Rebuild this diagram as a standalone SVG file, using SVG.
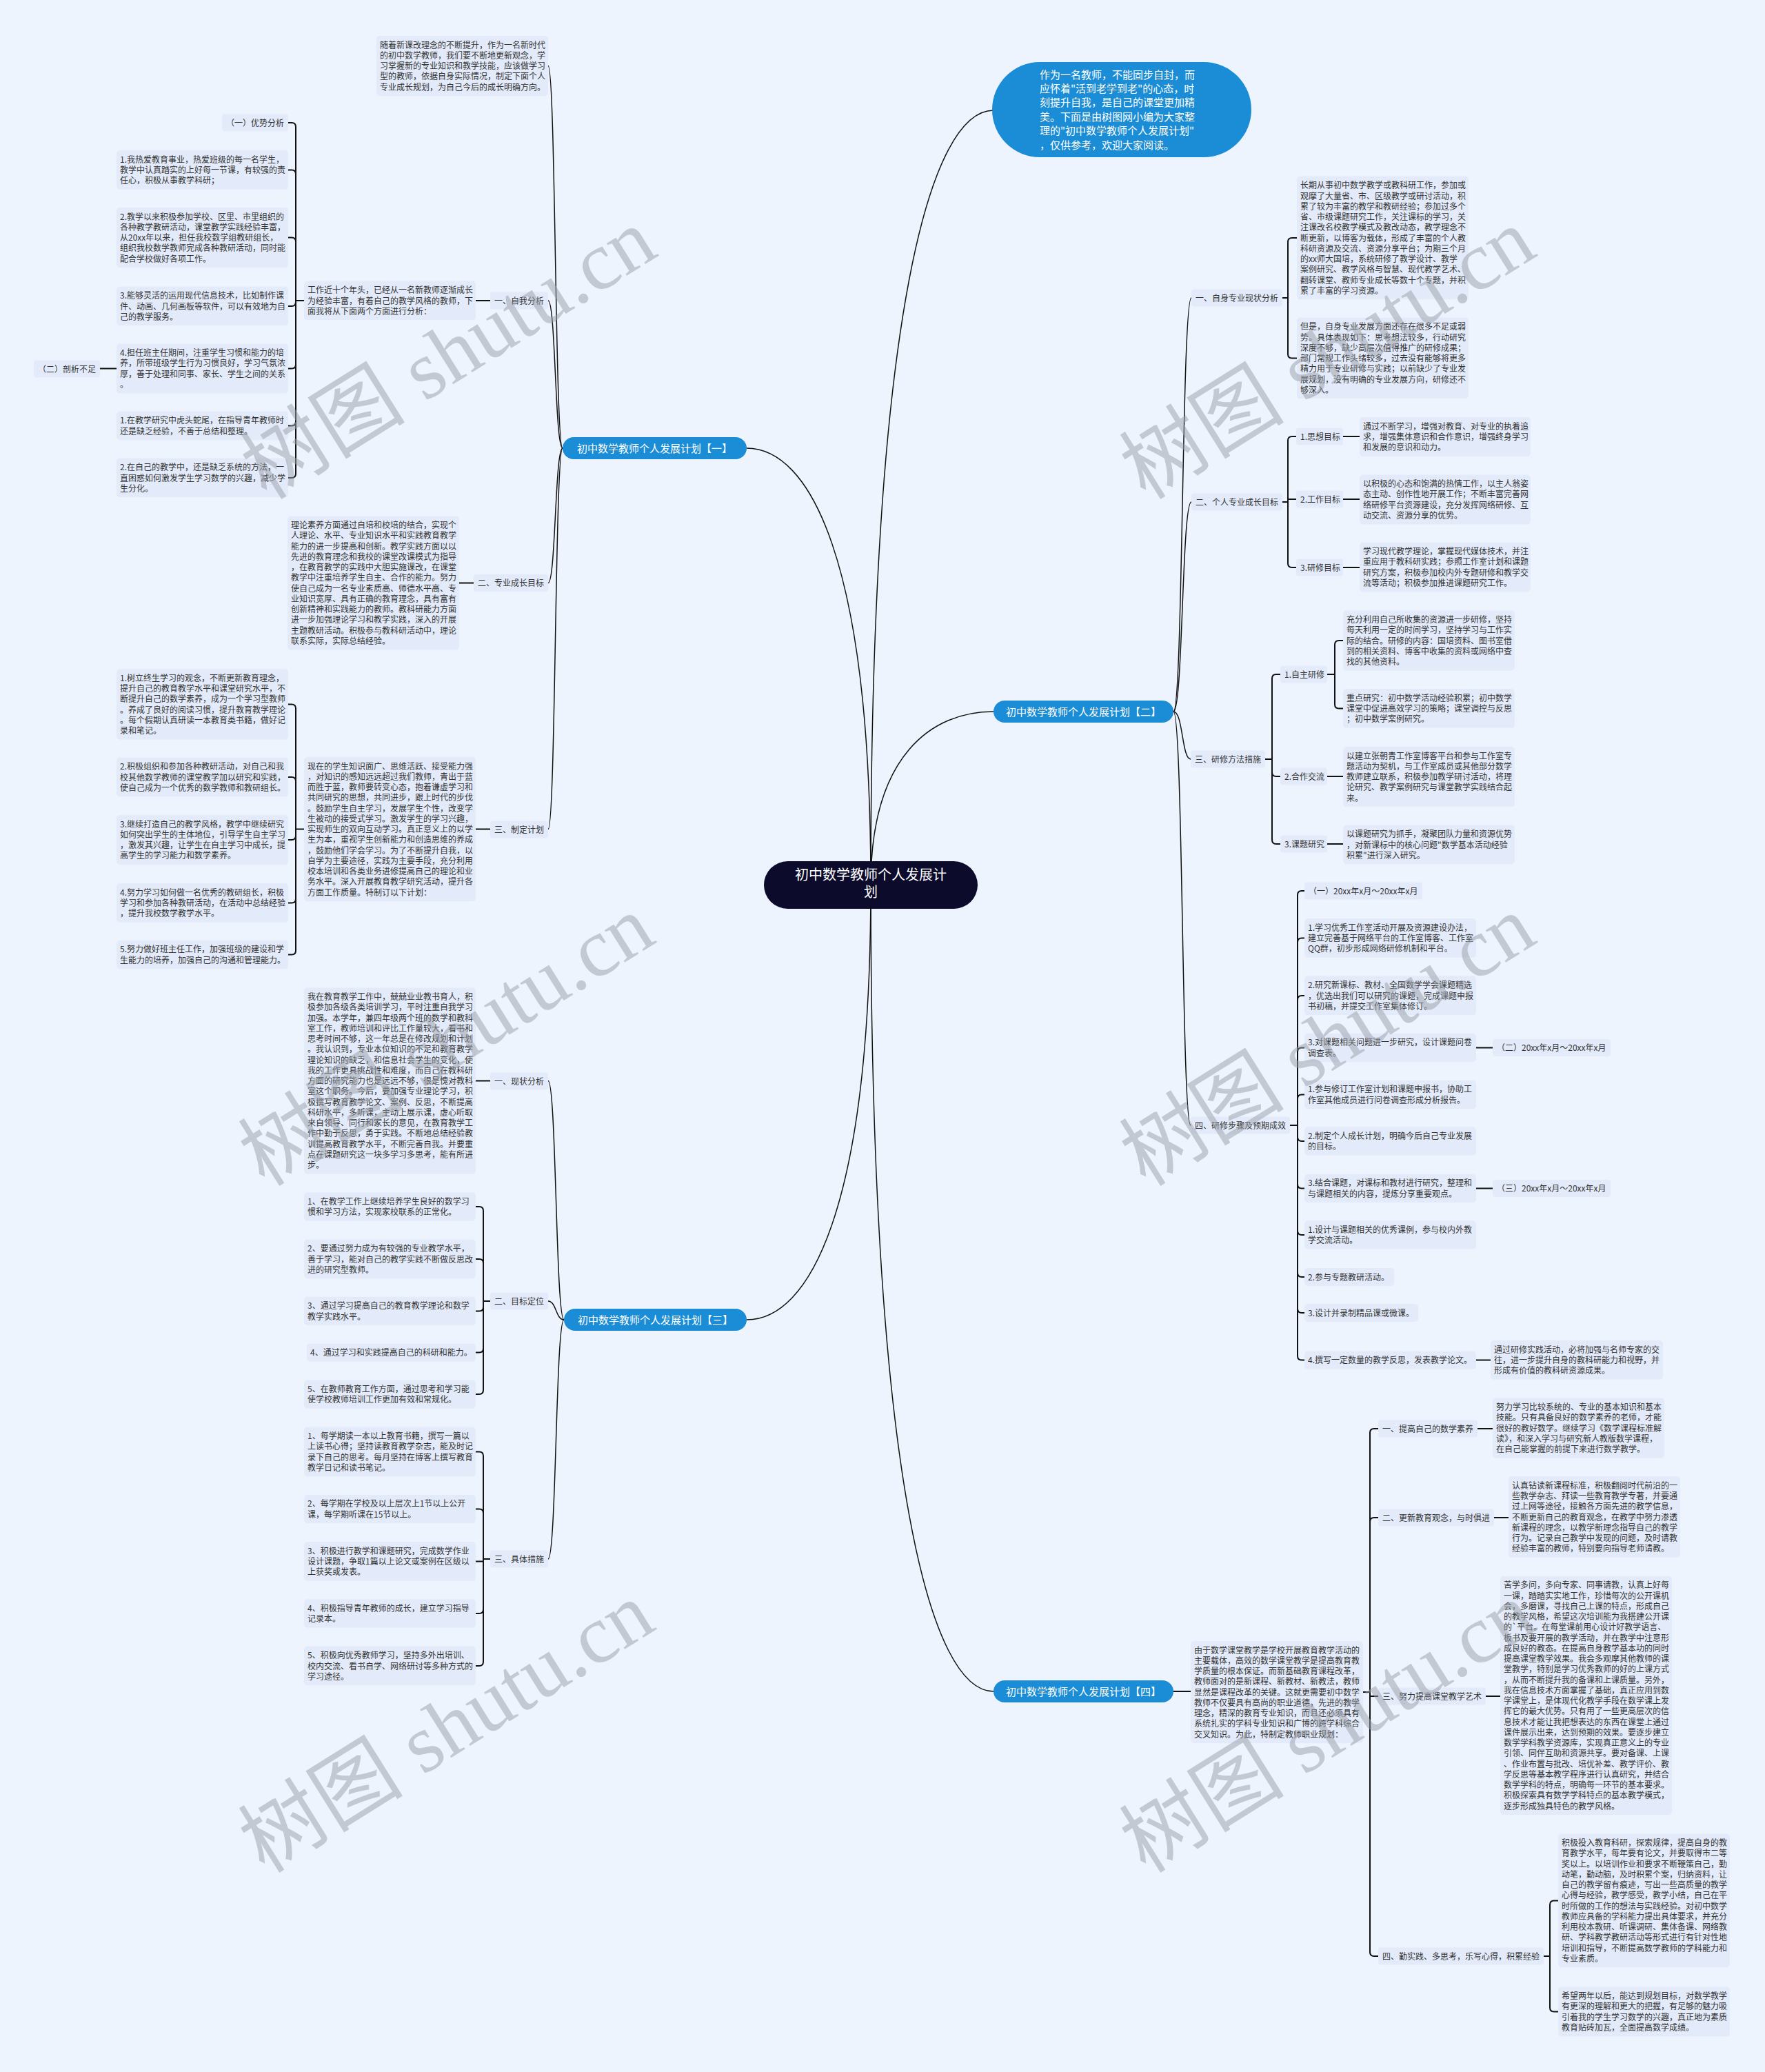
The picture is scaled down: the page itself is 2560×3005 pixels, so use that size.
<svg xmlns="http://www.w3.org/2000/svg" width="2560" height="3005" viewBox="0 0 2560 3005">
<style>
.t{font-family:"Noto Sans CJK SC","Noto Sans",sans-serif;font-size:12px;fill:#333}
.bx{fill:#e3ebfa}
.c{fill:none;stroke:#111;stroke-width:2}
.m{fill:none;stroke:#111;stroke-width:1.5}
.bn{fill:#1b8dd6}
.bt{font-family:"Noto Sans CJK SC","Noto Sans",sans-serif;font-size:15px;fill:#fff;text-anchor:middle}
.wm{font-family:"Liberation Serif","Noto Sans CJK SC",serif;font-size:120px;fill:#9aa0aa;opacity:0.5;text-anchor:middle}
</style>
<rect width="2560" height="3005" fill="#eef4fd"/>
<g id="connectors">
<path class="m" d="M1263,1283C1263,808 1173,650 1083,650"/>
<path class="m" d="M1263,1283C1263,441 1352,160 1441,160"/>
<path class="m" d="M1263,1283C1263,1095 1352,1032 1441,1032"/>
<path class="m" d="M1263,1283C1263,1756 1173,1914 1083,1914"/>
<path class="m" d="M1263,1283C1263,2160 1352,2453 1441,2453"/>
<path class="m" d="M816,650C805,650 806,95.5 795,95.5"/>
<path class="m" d="M816,650C805,650 806,436 795,436"/>
<path class="m" d="M816,650C805,650 806,845.5 795,845.5"/>
<path class="m" d="M816,650C805,650 806,1202.5 795,1202.5"/>
<path class="m" d="M818,1914C806,1914 807,1567.5 795,1567.5"/>
<path class="m" d="M818,1914C806,1914 807,1887 795,1887"/>
<path class="m" d="M818,1914C806,1914 807,2261 795,2261"/>
<path class="m" d="M1702,1032C1716,1032 1714,432 1728,432"/>
<path class="m" d="M1702,1032C1716,1032 1714,728 1728,728"/>
<path class="m" d="M1702,1032C1716,1032 1714,1101 1727,1101"/>
<path class="m" d="M1702,1032C1716,1032 1714,1632 1727,1632"/>
<path class="c" d="M1702,2453H1727"/>
<path class="c" d="M690,436H711M666,845.5H687M690,1202.5H711M169,534.5H145"/>
<path class="c" d="M441,436H429V184Q429,178 423,178H418M441,436H429V252.5Q429,246.5 423,246.5H418M441,436H429V350.5Q429,344.5 423,344.5H418M441,436H429V438Q429,444 423,444H418M441,436H429V528.5Q429,534.5 423,534.5H418M441,436H429V611.5Q429,617.5 423,617.5H418M441,436H429V687Q429,693 423,693H418"/>
<path class="c" d="M441,1202.5H429V1027.5Q429,1021.5 423,1021.5H418M441,1202.5H429V1133Q429,1127 423,1127H418M441,1202.5H429V1212Q429,1218 423,1218H418M441,1202.5H429V1303.5Q429,1309.5 423,1309.5H418M441,1202.5H429V1378.5Q429,1384.5 423,1384.5H418"/>
<path class="c" d="M690,1567.5H711"/>
<path class="c" d="M711,1887H701V1756Q701,1750 695,1750H690M711,1887H701V1832Q701,1826 695,1826H690M711,1887H701V1895.5Q701,1901.5 695,1901.5H690M711,1887H701V1955.5Q701,1961.5 695,1961.5H690M711,1887H701V2016Q701,2022 695,2022H690"/>
<path class="c" d="M711,2261H701V2111.5Q701,2105.5 695,2105.5H690M711,2261H701V2194.5Q701,2188.5 695,2188.5H690M711,2261H701V2264.5H690M711,2261H701V2334Q701,2340 695,2340H690M711,2261H701V2410Q701,2416 695,2416H690"/>
<path class="c" d="M1860,432H1868V351Q1868,345 1874,345H1881M1860,432H1868V513.5Q1868,519.5 1874,519.5H1881"/>
<path class="c" d="M1860,728H1868V639Q1868,633 1874,633H1880M1860,728H1868V724H1880M1860,728H1868V817Q1868,823 1874,823H1880M1948,633H1972M1948,724H1972M1948,823H1972"/>
<path class="c" d="M1835,1101H1845V984Q1845,978 1851,978H1857M1835,1101H1845V1120Q1845,1126 1851,1126H1857M1835,1101H1845V1218Q1845,1224 1851,1224H1857"/>
<path class="c" d="M1925,978H1936V935Q1936,929 1942,929H1948M1925,978H1936V1021.5Q1936,1027.5 1942,1027.5H1948M1925,1126H1948M1925,1224H1948"/>
<path class="c" d="M1871,1632H1882V1298Q1882,1292 1888,1292H1892M1871,1632H1882V1366.5Q1882,1360.5 1888,1360.5H1892M1871,1632H1882V1450Q1882,1444 1888,1444H1892M1871,1632H1882V1525.5Q1882,1519.5 1888,1519.5H1892M1871,1632H1882V1593.5Q1882,1587.5 1888,1587.5H1892M1871,1632H1882V1649Q1882,1655 1888,1655H1892M1871,1632H1882V1717.5Q1882,1723.5 1888,1723.5H1892M1871,1632H1882V1785Q1882,1791 1888,1791H1892M1871,1632H1882V1846Q1882,1852 1888,1852H1892M1871,1632H1882V1898Q1882,1904 1888,1904H1892M1871,1632H1882V1966.5Q1882,1972.5 1888,1972.5H1892"/>
<path class="c" d="M2141,1519.5H2165M2141,1723.5H2165M2140,1972.5H2162"/>
<path class="c" d="M1977,2454H1987V2078Q1987,2072 1993,2072H1999M1977,2454H1987V2207Q1987,2201 1993,2201H1999M1977,2454H1987V2460H1999M1977,2454H1987V2831Q1987,2837 1993,2837H1999"/>
<path class="c" d="M2143,2072H2165M2167,2201H2188M2155,2460H2176"/>
<path class="c" d="M2239,2837H2248V2762.5Q2248,2756.5 2254,2756.5H2260M2239,2837H2248V2911.5Q2248,2917.5 2254,2917.5H2260"/>
</g>
<g id="center">
<rect x="1108" y="1249" width="310" height="69" rx="34.5" fill="#0c0b2c"/>
<text font-family="Noto Sans CJK SC,sans-serif" font-size="20" fill="#fff" text-anchor="middle"><tspan x="1263" y="1276">初中数学教师个人发展计</tspan><tspan x="1263" y="1301">划</tspan></text>
</g>
<g id="intro">
<rect x="1439" y="90" width="376" height="138" rx="69" class="bn"/>
<text font-family="Noto Sans CJK SC,sans-serif" font-size="15" fill="#fff"><tspan x="1508" y="113.5">作为一名教师，不能固步自封，而</tspan><tspan x="1508" dy="20.4">应怀着"活到老学到老"的心态，时</tspan><tspan x="1508" dy="20.4">刻提升自我，是自己的课堂更加精</tspan><tspan x="1508" dy="20.4">美。下面是由树图网小编为大家整</tspan><tspan x="1508" dy="20.4">理的"初中数学教师个人发展计划"</tspan><tspan x="1508" dy="20.4">，仅供参考，欢迎大家阅读。</tspan></text>
</g>
<g id="b1">
<rect x="816" y="634" width="267" height="32" rx="16" class="bn"/>
<text class="bt" x="949.5" y="655.5">初中数学教师个人发展计划【一】</text>
</g>
<g id="b2">
<rect x="1441" y="1016" width="261" height="32" rx="16" class="bn"/>
<text class="bt" x="1571.5" y="1037.5">初中数学教师个人发展计划【二】</text>
</g>
<g id="b3">
<rect x="818" y="1898" width="265" height="32" rx="16" class="bn"/>
<text class="bt" x="950.5" y="1919.5">初中数学教师个人发展计划【三】</text>
</g>
<g id="b4">
<rect x="1441" y="2437" width="261" height="32" rx="16" class="bn"/>
<text class="bt" x="1571.5" y="2458.5">初中数学教师个人发展计划【四】</text>
</g>
<g id="b1-intro">
<rect class="bx" x="546" y="51.9" width="249" height="87.25" rx="5"/>
<text class="t"><tspan x="551" y="69.6">随着新课改理念的不断提升，作为一名新时代</tspan><tspan x="551" dy="15.25">的初中数学教师，我们要不断地更新观念，学</tspan><tspan x="551" dy="15.25">习掌握新的专业知识和教学技能，应该做学习</tspan><tspan x="551" dy="15.25">型的教师，依据自身实际情况，制定下面个人</tspan><tspan x="551" dy="15.25">专业成长规划，为自己今后的成长明确方向。</tspan></text>
</g>
<g id="b1-s1">
<rect class="bx" x="711" y="423.5" width="84" height="25" rx="4"/>
<text class="t" x="717" y="440.5">一、自我分析</text>
</g>
<g id="b1-s1-text">
<rect class="bx" x="441" y="407.6" width="249" height="56.75" rx="5"/>
<text class="t"><tspan x="446" y="425.3">工作近十个年头，已经从一名新教师逐渐成长</tspan><tspan x="446" dy="15.25">为经验丰富，有着自己的教学风格的教师，下</tspan><tspan x="446" dy="15.25">面我将从下面两个方面进行分析：</tspan></text>
</g>
<g id="b1-s1-c1">
<rect class="bx" x="322" y="165.5" width="96" height="25" rx="4"/>
<text class="t" x="328" y="182.5">（一）优势分析</text>
</g>
<g id="b1-s1-c2">
<rect class="bx" x="169" y="218.1" width="249" height="56.75" rx="5"/>
<text class="t"><tspan x="174" y="235.8">1.我热爱教育事业，热爱班级的每一名学生，</tspan><tspan x="174" dy="15.25">教学中认真踏实的上好每一节课，有较强的责</tspan><tspan x="174" dy="15.25">任心，积极从事教学科研；</tspan></text>
</g>
<g id="b1-s1-c3">
<rect class="bx" x="169" y="300.9" width="249" height="87.25" rx="5"/>
<text class="t"><tspan x="174" y="318.6">2.教学以来积极参加学校、区里、市里组织的</tspan><tspan x="174" dy="15.25">各种教学教研活动，课堂教学实践经验丰富，</tspan><tspan x="174" dy="15.25">从20xx年以来，担任我校数学组教研组长，</tspan><tspan x="174" dy="15.25">组织我校数学教师完成各种教研活动，同时能</tspan><tspan x="174" dy="15.25">配合学校做好各项工作。</tspan></text>
</g>
<g id="b1-s1-c4">
<rect class="bx" x="169" y="415.6" width="249" height="56.75" rx="5"/>
<text class="t"><tspan x="174" y="433.3">3.能够灵活的运用现代信息技术，比如制作课</tspan><tspan x="174" dy="15.25">件、动画、几何画板等软件，可以有效地为自</tspan><tspan x="174" dy="15.25">己的教学服务。</tspan></text>
</g>
<g id="b1-s1-c5">
<rect class="bx" x="169" y="498.5" width="249" height="72" rx="5"/>
<text class="t"><tspan x="174" y="516.2">4.担任班主任期间，注重学生习惯和能力的培</tspan><tspan x="174" dy="15.25">养，所带班级学生行为习惯良好，学习气氛浓</tspan><tspan x="174" dy="15.25">厚，善于处理和同事、家长、学生之间的关系</tspan><tspan x="174" dy="15.25">。</tspan></text>
</g>
<g id="b1-s1-c5a">
<rect class="bx" x="49" y="522.5" width="96" height="25" rx="4"/>
<text class="t" x="55" y="539.5">（二）剖析不足</text>
</g>
<g id="b1-s1-c6">
<rect class="bx" x="169" y="596.75" width="249" height="41.5" rx="5"/>
<text class="t"><tspan x="174" y="614.45">1.在教学研究中虎头蛇尾，在指导青年教师时</tspan><tspan x="174" dy="15.25">还是缺乏经验，不善于总结和整理。</tspan></text>
</g>
<g id="b1-s1-c7">
<rect class="bx" x="169" y="664.6" width="249" height="56.75" rx="5"/>
<text class="t"><tspan x="174" y="682.3">2.在自己的教学中，还是缺乏系统的方法，一</tspan><tspan x="174" dy="15.25">直困惑如何激发学生学习数学的兴趣，减少学</tspan><tspan x="174" dy="15.25">生分化。</tspan></text>
</g>
<g id="b1-s2">
<rect class="bx" x="687" y="833" width="108" height="25" rx="4"/>
<text class="t" x="693" y="850">二、专业成长目标</text>
</g>
<g id="b1-s2-text">
<rect class="bx" x="417" y="748.5" width="249" height="194" rx="5"/>
<text class="t"><tspan x="422" y="766.2">理论素养方面通过自培和校培的结合，实现个</tspan><tspan x="422" dy="15.25">人理论、水平、专业知识水平和实践教育教学</tspan><tspan x="422" dy="15.25">能力的进一步提高和创新。教学实践方面以以</tspan><tspan x="422" dy="15.25">先进的教育理念和我校的课堂改课模式为指导</tspan><tspan x="422" dy="15.25">，在教育教学的实践中大胆实施课改，在课堂</tspan><tspan x="422" dy="15.25">教学中注重培养学生自主、合作的能力。努力</tspan><tspan x="422" dy="15.25">使自己成为一名专业素质高、师德水平高、专</tspan><tspan x="422" dy="15.25">业知识宽厚、具有正确的教育理念，具有富有</tspan><tspan x="422" dy="15.25">创新精神和实践能力的教师。教科研能力方面</tspan><tspan x="422" dy="15.25">进一步加强理论学习和教学实践，深入的开展</tspan><tspan x="422" dy="15.25">主题教研活动。积极参与教科研活动中，理论</tspan><tspan x="422" dy="15.25">联系实际，实际总结经验。</tspan></text>
</g>
<g id="b1-s3">
<rect class="bx" x="711" y="1190.5" width="84" height="25" rx="4"/>
<text class="t" x="717" y="1207.5">三、制定计划</text>
</g>
<g id="b1-s3-text">
<rect class="bx" x="441" y="1097.9" width="249" height="209.25" rx="5"/>
<text class="t"><tspan x="446" y="1115.6">现在的学生知识面广、思维活跃、接受能力强</tspan><tspan x="446" dy="15.25">，对知识的感知远远超过我们教师，青出于蓝</tspan><tspan x="446" dy="15.25">而胜于蓝，教师要转变心态，抱着谦虚学习和</tspan><tspan x="446" dy="15.25">共同研究的思想，共同进步，跟上时代的步伐</tspan><tspan x="446" dy="15.25">。鼓励学生自主学习，发展学生个性，改变学</tspan><tspan x="446" dy="15.25">生被动的接受式学习。激发学生的学习兴趣，</tspan><tspan x="446" dy="15.25">实现师生的双向互动学习。真正意义上的以学</tspan><tspan x="446" dy="15.25">生为本，重视学生创新能力和创造思维的养成</tspan><tspan x="446" dy="15.25">，鼓励他们学会学习。为了不断提升自我，以</tspan><tspan x="446" dy="15.25">自学为主要途径，实践为主要手段，充分利用</tspan><tspan x="446" dy="15.25">校本培训和各类业务进修提高自己的理论和业</tspan><tspan x="446" dy="15.25">务水平。深入开展教育教学研究活动，提升各</tspan><tspan x="446" dy="15.25">方面工作质量。特制订以下计划：</tspan></text>
</g>
<g id="b1-s3-c1">
<rect class="bx" x="169" y="970.25" width="249" height="102.5" rx="5"/>
<text class="t"><tspan x="174" y="987.95">1.树立终生学习的观念，不断更新教育理念，</tspan><tspan x="174" dy="15.25">提升自己的教育教学水平和课堂研究水平，不</tspan><tspan x="174" dy="15.25">断提升自己的数学素养，成为一个学习型教师</tspan><tspan x="174" dy="15.25">。养成了良好的阅读习惯，提升教育教学理论</tspan><tspan x="174" dy="15.25">。每个假期认真研读一本教育类书籍，做好记</tspan><tspan x="174" dy="15.25">录和笔记。</tspan></text>
</g>
<g id="b1-s3-c2">
<rect class="bx" x="169" y="1098.6" width="249" height="56.75" rx="5"/>
<text class="t"><tspan x="174" y="1116.3">2.积极组织和参加各种教研活动，对自己和我</tspan><tspan x="174" dy="15.25">校其他数学教师的课堂教学加以研究和实践，</tspan><tspan x="174" dy="15.25">使自己成为一个优秀的数学教师和教研组长。</tspan></text>
</g>
<g id="b1-s3-c3">
<rect class="bx" x="169" y="1182" width="249" height="72" rx="5"/>
<text class="t"><tspan x="174" y="1199.7">3.继续打造自己的教学风格，教学中继续研究</tspan><tspan x="174" dy="15.25">如何突出学生的主体地位，引导学生自主学习</tspan><tspan x="174" dy="15.25">，激发其兴趣，让学生在自主学习中成长，提</tspan><tspan x="174" dy="15.25">高学生的学习能力和数学素养。</tspan></text>
</g>
<g id="b1-s3-c4">
<rect class="bx" x="169" y="1281.1" width="249" height="56.75" rx="5"/>
<text class="t"><tspan x="174" y="1298.8">4.努力学习如何做一名优秀的教研组长，积极</tspan><tspan x="174" dy="15.25">学习和参加各种教研活动，在活动中总结经验</tspan><tspan x="174" dy="15.25">，提升我校数学教学水平。</tspan></text>
</g>
<g id="b1-s3-c5">
<rect class="bx" x="169" y="1363.75" width="249" height="41.5" rx="5"/>
<text class="t"><tspan x="174" y="1381.45">5.努力做好班主任工作，加强班级的建设和学</tspan><tspan x="174" dy="15.25">生能力的培养，加强自己的沟通和管理能力。</tspan></text>
</g>
<g id="b3-s1">
<rect class="bx" x="711" y="1555.5" width="84" height="25" rx="4"/>
<text class="t" x="717" y="1572.5">一、现状分析</text>
</g>
<g id="b3-s1-text">
<rect class="bx" x="441" y="1432.4" width="249" height="270.25" rx="5"/>
<text class="t"><tspan x="446" y="1450.1">我在教育教学工作中，兢兢业业教书育人，积</tspan><tspan x="446" dy="15.25">极参加各级各类培训学习，平时注重自我学习</tspan><tspan x="446" dy="15.25">加强。本学年，兼四年级两个班的数学和教科</tspan><tspan x="446" dy="15.25">室工作，教师培训和评比工作量较大，看书和</tspan><tspan x="446" dy="15.25">思考时间不够，这一年总是在修改规划和计划</tspan><tspan x="446" dy="15.25">。我认识到，专业本位知识的不足和教育教学</tspan><tspan x="446" dy="15.25">理论知识的缺乏，和信息社会学生的变化，使</tspan><tspan x="446" dy="15.25">我的工作更具挑战性和难度，而自己在教科研</tspan><tspan x="446" dy="15.25">方面的研究能力也是远远不够，很是愧对教科</tspan><tspan x="446" dy="15.25">室这个职务。今后，要加强专业理论学习，积</tspan><tspan x="446" dy="15.25">极撰写教育教学论文、案例、反思，不断提高</tspan><tspan x="446" dy="15.25">科研水平，多听课，主动上展示课，虚心听取</tspan><tspan x="446" dy="15.25">来自领导、同行和家长的意见，在教育教学工</tspan><tspan x="446" dy="15.25">作中勤于反思，勇于实践。不断地总结经验教</tspan><tspan x="446" dy="15.25">训提高教育教学水平，不断完善自我。并要重</tspan><tspan x="446" dy="15.25">点在课题研究这一块多学习多思考，能有所进</tspan><tspan x="446" dy="15.25">步。</tspan></text>
</g>
<g id="b3-s2">
<rect class="bx" x="711" y="1874.5" width="84" height="25" rx="4"/>
<text class="t" x="717" y="1891.5">二、目标定位</text>
</g>
<g id="b3-s2-c1">
<rect class="bx" x="441" y="1729.25" width="249" height="41.5" rx="5"/>
<text class="t"><tspan x="446" y="1746.95">1、在教学工作上继续培养学生良好的数学习</tspan><tspan x="446" dy="15.25">惯和学习方法，实现家校联系的正常化。</tspan></text>
</g>
<g id="b3-s2-c2">
<rect class="bx" x="441" y="1797.6" width="249" height="56.75" rx="5"/>
<text class="t"><tspan x="446" y="1815.3">2、要通过努力成为有较强的专业教学水平，</tspan><tspan x="446" dy="15.25">善于学习，能对自己的教学实践不断做反思改</tspan><tspan x="446" dy="15.25">进的研究型教师。</tspan></text>
</g>
<g id="b3-s2-c3">
<rect class="bx" x="441" y="1880.75" width="249" height="41.5" rx="5"/>
<text class="t"><tspan x="446" y="1898.45">3、通过学习提高自己的教育教学理论和数学</tspan><tspan x="446" dy="15.25">教学实践水平。</tspan></text>
</g>
<g id="b3-s2-c4">
<rect class="bx" x="445" y="1948.4" width="245" height="26.25" rx="5"/>
<text class="t" x="450" y="1966.1">4、通过学习和实践提高自己的科研和能力。</text>
</g>
<g id="b3-s2-c5">
<rect class="bx" x="441" y="2001.25" width="249" height="41.5" rx="5"/>
<text class="t"><tspan x="446" y="2018.95">5、在教师教育工作方面，通过思考和学习能</tspan><tspan x="446" dy="15.25">使学校教师培训工作更加有效和常规化。</tspan></text>
</g>
<g id="b3-s3">
<rect class="bx" x="711" y="2248.5" width="84" height="25" rx="4"/>
<text class="t" x="717" y="2265.5">三、具体措施</text>
</g>
<g id="b3-s3-c1">
<rect class="bx" x="441" y="2069.5" width="249" height="72" rx="5"/>
<text class="t"><tspan x="446" y="2087.2">1、每学期读一本以上教育书籍，撰写一篇以</tspan><tspan x="446" dy="15.25">上读书心得；坚持读教育教学杂志，能及时记</tspan><tspan x="446" dy="15.25">录下自己的思考。每月坚持在博客上撰写教育</tspan><tspan x="446" dy="15.25">教学日记和读书笔记。</tspan></text>
</g>
<g id="b3-s3-c2">
<rect class="bx" x="441" y="2167.75" width="249" height="41.5" rx="5"/>
<text class="t"><tspan x="446" y="2185.45">2、每学期在学校及以上层次上1节以上公开</tspan><tspan x="446" dy="15.25">课，每学期听课在15节以上。</tspan></text>
</g>
<g id="b3-s3-c3">
<rect class="bx" x="441" y="2236.1" width="249" height="56.75" rx="5"/>
<text class="t"><tspan x="446" y="2253.8">3、积极进行教学和课题研究，完成数学作业</tspan><tspan x="446" dy="15.25">设计课题，争取1篇以上论文或案例在区级以</tspan><tspan x="446" dy="15.25">上获奖或发表。</tspan></text>
</g>
<g id="b3-s3-c4">
<rect class="bx" x="441" y="2319.25" width="249" height="41.5" rx="5"/>
<text class="t"><tspan x="446" y="2336.95">4、积极指导青年教师的成长，建立学习指导</tspan><tspan x="446" dy="15.25">记录本。</tspan></text>
</g>
<g id="b3-s3-c5">
<rect class="bx" x="441" y="2387.6" width="249" height="56.75" rx="5"/>
<text class="t"><tspan x="446" y="2405.3">5、积极向优秀教师学习，坚持多外出培训、</tspan><tspan x="446" dy="15.25">校内交流、看书自学、网络研讨等多种方式的</tspan><tspan x="446" dy="15.25">学习途径。</tspan></text>
</g>
<g id="b2-s1">
<rect class="bx" x="1728" y="419.5" width="132" height="25" rx="4"/>
<text class="t" x="1734" y="436.5">一、自身专业现状分析</text>
</g>
<g id="b2-s1-c1">
<rect class="bx" x="1881" y="255.6" width="249" height="178.75" rx="5"/>
<text class="t"><tspan x="1886" y="273.3">长期从事初中数学教学或教科研工作，参加或</tspan><tspan x="1886" dy="15.25">观摩了大量省、市、区级教学或研讨活动，积</tspan><tspan x="1886" dy="15.25">累了较为丰富的教学和教研经验；参加过多个</tspan><tspan x="1886" dy="15.25">省、市级课题研究工作，关注课标的学习，关</tspan><tspan x="1886" dy="15.25">注课改名校教学模式及教改动态，教学理念不</tspan><tspan x="1886" dy="15.25">断更新，以博客为载体，形成了丰富的个人教</tspan><tspan x="1886" dy="15.25">科研资源及交流、资源分享平台；为期三个月</tspan><tspan x="1886" dy="15.25">的xx师大国培，系统研修了教学设计、教学</tspan><tspan x="1886" dy="15.25">案例研究、教学风格与智慧、现代教学艺术、</tspan><tspan x="1886" dy="15.25">翻转课堂、教师专业成长等数十个专题，并积</tspan><tspan x="1886" dy="15.25">累了丰富的学习资源。</tspan></text>
</g>
<g id="b2-s1-c2">
<rect class="bx" x="1881" y="460.6" width="249" height="117.75" rx="5"/>
<text class="t"><tspan x="1886" y="478.3">但是，自身专业发展方面还存在很多不足或弱</tspan><tspan x="1886" dy="15.25">势。具体表现如下：思考想法较多，行动研究</tspan><tspan x="1886" dy="15.25">深度不够，缺少高层次值得推广的研修成果；</tspan><tspan x="1886" dy="15.25">部门常规工作头绪较多，过去没有能够将更多</tspan><tspan x="1886" dy="15.25">精力用于专业研修与实践；以前缺少了专业发</tspan><tspan x="1886" dy="15.25">展规划，没有明确的专业发展方向，研修还不</tspan><tspan x="1886" dy="15.25">够深入。</tspan></text>
</g>
<g id="b2-s2">
<rect class="bx" x="1728" y="715.5" width="132" height="25" rx="4"/>
<text class="t" x="1734" y="732.5">二、个人专业成长目标</text>
</g>
<g id="b2-s2-g1">
<rect class="bx" x="1880" y="620.5" width="68" height="25" rx="4"/>
<text class="t" x="1886" y="637.5">1.思想目标</text>
</g>
<g id="b2-s2-g2">
<rect class="bx" x="1880" y="711.5" width="68" height="25" rx="4"/>
<text class="t" x="1886" y="728.5">2.工作目标</text>
</g>
<g id="b2-s2-g3">
<rect class="bx" x="1880" y="810.5" width="68" height="25" rx="4"/>
<text class="t" x="1886" y="827.5">3.研修目标</text>
</g>
<g id="b2-s2-t1">
<rect class="bx" x="1972" y="605.1" width="248" height="56.75" rx="5"/>
<text class="t"><tspan x="1977" y="622.8">通过不断学习，增强对教育、对专业的执着追</tspan><tspan x="1977" dy="15.25">求，增强集体意识和合作意识，增强终身学习</tspan><tspan x="1977" dy="15.25">和发展的意识和动力。</tspan></text>
</g>
<g id="b2-s2-t2">
<rect class="bx" x="1972" y="688.5" width="248" height="72" rx="5"/>
<text class="t"><tspan x="1977" y="706.2">以积极的心态和饱满的热情工作，以主人翁姿</tspan><tspan x="1977" dy="15.25">态主动、创作性地开展工作；不断丰富完善网</tspan><tspan x="1977" dy="15.25">络研修平台资源建设，充分发挥网络研修、互</tspan><tspan x="1977" dy="15.25">动交流、资源分享的优势。</tspan></text>
</g>
<g id="b2-s2-t3">
<rect class="bx" x="1972" y="786.5" width="248" height="72" rx="5"/>
<text class="t"><tspan x="1977" y="804.2">学习现代教学理论，掌握现代媒体技术，并注</tspan><tspan x="1977" dy="15.25">重应用于教科研实践；参照工作室计划和课题</tspan><tspan x="1977" dy="15.25">研究方案，积极参加校内外专题研修和教学交</tspan><tspan x="1977" dy="15.25">流等活动；积极参加推进课题研究工作。</tspan></text>
</g>
<g id="b2-s3">
<rect class="bx" x="1727" y="1088.5" width="108" height="25" rx="4"/>
<text class="t" x="1733" y="1105.5">三、研修方法措施</text>
</g>
<g id="b2-s3-g1">
<rect class="bx" x="1857" y="965.5" width="68" height="25" rx="4"/>
<text class="t" x="1863" y="982.5">1.自主研修</text>
</g>
<g id="b2-s3-g2">
<rect class="bx" x="1857" y="1113.5" width="68" height="25" rx="4"/>
<text class="t" x="1863" y="1130.5">2.合作交流</text>
</g>
<g id="b2-s3-g3">
<rect class="bx" x="1857" y="1211.5" width="68" height="25" rx="4"/>
<text class="t" x="1863" y="1228.5">3.课题研究</text>
</g>
<g id="b2-s3-t1">
<rect class="bx" x="1948" y="885.4" width="249" height="87.25" rx="5"/>
<text class="t"><tspan x="1953" y="903.1">充分利用自己所收集的资源进一步研修，坚持</tspan><tspan x="1953" dy="15.25">每天利用一定的时间学习，坚持学习与工作实</tspan><tspan x="1953" dy="15.25">际的结合。研修的内容：国培资料、图书室借</tspan><tspan x="1953" dy="15.25">到的相关资料、博客中收集的资料或网络中查</tspan><tspan x="1953" dy="15.25">找的其他资料。</tspan></text>
</g>
<g id="b2-s3-t2">
<rect class="bx" x="1948" y="999.1" width="249" height="56.75" rx="5"/>
<text class="t"><tspan x="1953" y="1016.8">重点研究：初中数学活动经验积累；初中数学</tspan><tspan x="1953" dy="15.25">课堂中促进高效学习的策略；课堂调控与反思</tspan><tspan x="1953" dy="15.25">；初中数学案例研究。</tspan></text>
</g>
<g id="b2-s3-t3">
<rect class="bx" x="1948" y="1082.9" width="249" height="87.25" rx="5"/>
<text class="t"><tspan x="1953" y="1100.6">以建立张朝青工作室博客平台和参与工作室专</tspan><tspan x="1953" dy="15.25">题活动为契机，与工作室成员或其他部分数学</tspan><tspan x="1953" dy="15.25">教师建立联系，积极参加教学研讨活动，将理</tspan><tspan x="1953" dy="15.25">论研究、教学案例研究与课堂教学实践结合起</tspan><tspan x="1953" dy="15.25">来。</tspan></text>
</g>
<g id="b2-s3-t4">
<rect class="bx" x="1948" y="1196.6" width="249" height="56.75" rx="5"/>
<text class="t"><tspan x="1953" y="1214.3">以课题研究为抓手，凝聚团队力量和资源优势</tspan><tspan x="1953" dy="15.25">，对新课标中的核心问题"数学基本活动经验</tspan><tspan x="1953" dy="15.25">积累"进行深入研究。</tspan></text>
</g>
<g id="b2-s4">
<rect class="bx" x="1727" y="1619.5" width="144" height="25" rx="4"/>
<text class="t" x="1733" y="1636.5">四、研修步骤及预期成效</text>
</g>
<g id="b2-s4-p1">
<rect class="bx" x="1892" y="1279.5" width="171" height="25" rx="4"/>
<text class="t" x="1898" y="1296.5">（一）20xx年x月～20xx年x月</text>
</g>
<g id="b2-s4-c1">
<rect class="bx" x="1892" y="1332.1" width="249" height="56.75" rx="5"/>
<text class="t"><tspan x="1897" y="1349.8">1.学习优秀工作室活动开展及资源建设办法，</tspan><tspan x="1897" dy="15.25">建立完善基于网络平台的工作室博客、工作室</tspan><tspan x="1897" dy="15.25">QQ群，初步形成网络研修机制和平台。</tspan></text>
</g>
<g id="b2-s4-c2">
<rect class="bx" x="1892" y="1415.6" width="249" height="56.75" rx="5"/>
<text class="t"><tspan x="1897" y="1433.3">2.研究新课标、教材、全国数学学会课题精选</tspan><tspan x="1897" dy="15.25">，优选出我们可以研究的课题，完成课题申报</tspan><tspan x="1897" dy="15.25">书初稿，并提交工作室集体修订。</tspan></text>
</g>
<g id="b2-s4-c3">
<rect class="bx" x="1892" y="1498.75" width="249" height="41.5" rx="5"/>
<text class="t"><tspan x="1897" y="1516.45">3.对课题相关问题进一步研究，设计课题问卷</tspan><tspan x="1897" dy="15.25">调查表。</tspan></text>
</g>
<g id="b2-s4-p2">
<rect class="bx" x="2165" y="1507" width="171" height="25" rx="4"/>
<text class="t" x="2171" y="1524">（二）20xx年x月～20xx年x月</text>
</g>
<g id="b2-s4-c4">
<rect class="bx" x="1892" y="1566.75" width="249" height="41.5" rx="5"/>
<text class="t"><tspan x="1897" y="1584.45">1.参与修订工作室计划和课题申报书，协助工</tspan><tspan x="1897" dy="15.25">作室其他成员进行问卷调查形成分析报告。</tspan></text>
</g>
<g id="b2-s4-c5">
<rect class="bx" x="1892" y="1634.25" width="249" height="41.5" rx="5"/>
<text class="t"><tspan x="1897" y="1651.95">2.制定个人成长计划，明确今后自己专业发展</tspan><tspan x="1897" dy="15.25">的目标。</tspan></text>
</g>
<g id="b2-s4-c6">
<rect class="bx" x="1892" y="1702.75" width="249" height="41.5" rx="5"/>
<text class="t"><tspan x="1897" y="1720.45">3.结合课题，对课标和教材进行研究，整理和</tspan><tspan x="1897" dy="15.25">与课题相关的内容，提炼分享重要观点。</tspan></text>
</g>
<g id="b2-s4-p3">
<rect class="bx" x="2165" y="1711" width="171" height="25" rx="4"/>
<text class="t" x="2171" y="1728">（三）20xx年x月～20xx年x月</text>
</g>
<g id="b2-s4-c7">
<rect class="bx" x="1892" y="1770.25" width="249" height="41.5" rx="5"/>
<text class="t"><tspan x="1897" y="1787.95">1.设计与课题相关的优秀课例，参与校内外教</tspan><tspan x="1897" dy="15.25">学交流活动。</tspan></text>
</g>
<g id="b2-s4-c8">
<rect class="bx" x="1892" y="1838.9" width="130" height="26.25" rx="5"/>
<text class="t" x="1897" y="1856.6">2.参与专题教研活动。</text>
</g>
<g id="b2-s4-c9">
<rect class="bx" x="1892" y="1890.9" width="165" height="26.25" rx="5"/>
<text class="t" x="1897" y="1908.6">3.设计并录制精品课或微课。</text>
</g>
<g id="b2-s4-c10">
<rect class="bx" x="1892" y="1959.4" width="249" height="26.25" rx="5"/>
<text class="t" x="1897" y="1977.1">4.撰写一定数量的教学反思，发表教学论文。</text>
</g>
<g id="b2-s4-c10a">
<rect class="bx" x="2162" y="1944.1" width="250" height="56.75" rx="5"/>
<text class="t"><tspan x="2167" y="1961.8">通过研修实践活动，必将加强与名师专家的交</tspan><tspan x="2167" dy="15.25">往，进一步提升自身的教科研能力和视野，并</tspan><tspan x="2167" dy="15.25">形成有价值的教科研资源成果。</tspan></text>
</g>
<g id="b4-text">
<rect class="bx" x="1727" y="2379.9" width="250" height="148.25" rx="5"/>
<text class="t"><tspan x="1732" y="2397.6">由于数学课堂教学是学校开展教育教学活动的</tspan><tspan x="1732" dy="15.25">主要载体，高效的数学课堂教学是提高教育教</tspan><tspan x="1732" dy="15.25">学质量的根本保证。而新基础教育课程改革，</tspan><tspan x="1732" dy="15.25">教师面对的是新课程、新教材、新教法，教师</tspan><tspan x="1732" dy="15.25">显然是课程改革的关键。这就更需要初中数学</tspan><tspan x="1732" dy="15.25">教师不仅要具有高尚的职业道德，先进的教学</tspan><tspan x="1732" dy="15.25">理念，精深的教育专业知识，而且还必须具有</tspan><tspan x="1732" dy="15.25">系统扎实的学科专业知识和广博的跨学科综合</tspan><tspan x="1732" dy="15.25">交叉知识。为此，特制定教师职业规划：</tspan></text>
</g>
<g id="b4-s1">
<rect class="bx" x="1999" y="2059.5" width="144" height="25" rx="4"/>
<text class="t" x="2005" y="2076.5">一、提高自己的数学素养</text>
</g>
<g id="b4-s1-t">
<rect class="bx" x="2165" y="2027.4" width="249" height="87.25" rx="5"/>
<text class="t"><tspan x="2170" y="2045.1">努力学习比较系统的、专业的基本知识和基本</tspan><tspan x="2170" dy="15.25">技能。只有具备良好的数学素养的老师，才能</tspan><tspan x="2170" dy="15.25">很好的教好数学。继续学习《数学课程标准解</tspan><tspan x="2170" dy="15.25">读》，和深入学习与研究新人教版数学课程，</tspan><tspan x="2170" dy="15.25">在自己能掌握的前提下来进行数学教学。</tspan></text>
</g>
<g id="b4-s2">
<rect class="bx" x="1999" y="2188.5" width="168" height="25" rx="4"/>
<text class="t" x="2005" y="2205.5">二、更新教育观念，与时俱进</text>
</g>
<g id="b4-s2-t">
<rect class="bx" x="2188" y="2141.1" width="249" height="117.75" rx="5"/>
<text class="t"><tspan x="2193" y="2158.8">认真钻读新课程标准，积极翻阅时代前沿的一</tspan><tspan x="2193" dy="15.25">些教学杂志、拜读一些教育教学专著，并要通</tspan><tspan x="2193" dy="15.25">过上网等途径，接触各方面先进的教学信息，</tspan><tspan x="2193" dy="15.25">不断更新自己的教育观念，在教学中努力渗透</tspan><tspan x="2193" dy="15.25">新课程的理念，以教学新理念指导自己的教学</tspan><tspan x="2193" dy="15.25">行为。记录自己教学中发现的问题，及时请教</tspan><tspan x="2193" dy="15.25">经验丰富的教师，特别要向指导老师请教。</tspan></text>
</g>
<g id="b4-s3">
<rect class="bx" x="1999" y="2447.5" width="156" height="25" rx="4"/>
<text class="t" x="2005" y="2464.5">三、努力提高课堂教学艺术</text>
</g>
<g id="b4-s3-t">
<rect class="bx" x="2176" y="2285.75" width="249" height="346.5" rx="5"/>
<text class="t"><tspan x="2181" y="2303.45">苦学多问，多向专家、同事请教，认真上好每</tspan><tspan x="2181" dy="15.25">一课，踏踏实实地工作，珍惜每次的公开课机</tspan><tspan x="2181" dy="15.25">会，多磨课，寻找自己上课的特点，形成自己</tspan><tspan x="2181" dy="15.25">的教学风格，希望这次培训能为我搭建公开课</tspan><tspan x="2181" dy="15.25">的`平台。在每堂课前用心设计好教学语言、</tspan><tspan x="2181" dy="15.25">板书及要开展的教学活动，并在教学中注意形</tspan><tspan x="2181" dy="15.25">成良好的教态。在提高自身教学基本功的同时</tspan><tspan x="2181" dy="15.25">提高课堂教学效果。我会多观摩其他教师的课</tspan><tspan x="2181" dy="15.25">堂教学，特别是学习优秀教师的好的上课方式</tspan><tspan x="2181" dy="15.25">，从而不断提升我的备课和上课质量。另外，</tspan><tspan x="2181" dy="15.25">我在信息技术方面掌握了基础，真正应用到数</tspan><tspan x="2181" dy="15.25">学课堂上，是体现代化教学手段在数学课上发</tspan><tspan x="2181" dy="15.25">挥它的最大优势。只有用了一些更高层次的信</tspan><tspan x="2181" dy="15.25">息技术才能让我把想表达的东西在课堂上通过</tspan><tspan x="2181" dy="15.25">课件展示出来，达到预期的效果。要逐步建立</tspan><tspan x="2181" dy="15.25">数学学科教学资源库，实现真正意义上的专业</tspan><tspan x="2181" dy="15.25">引领、同伴互助和资源共享。要对备课、上课</tspan><tspan x="2181" dy="15.25">、作业布置与批改、培优补差、教学评价、教</tspan><tspan x="2181" dy="15.25">学反思等基本教学程序进行认真研究，并结合</tspan><tspan x="2181" dy="15.25">数学学科的特点，明确每一环节的基本要求。</tspan><tspan x="2181" dy="15.25">积极探索具有数学学科特点的基本教学模式，</tspan><tspan x="2181" dy="15.25">逐步形成独具特色的教学风格。</tspan></text>
</g>
<g id="b4-s4">
<rect class="bx" x="1999" y="2824.5" width="240" height="25" rx="4"/>
<text class="t" x="2005" y="2841.5">四、勤实践、多思考，乐写心得，积累经验</text>
</g>
<g id="b4-s4-t1">
<rect class="bx" x="2260" y="2659.5" width="249" height="194" rx="5"/>
<text class="t"><tspan x="2265" y="2677.2">积极投入教育科研，探索规律，提高自身的教</tspan><tspan x="2265" dy="15.25">育教学水平，每年要有论文，并要取得市二等</tspan><tspan x="2265" dy="15.25">奖以上。以培训作业和要求不断鞭策自己，勤</tspan><tspan x="2265" dy="15.25">动笔，勤动脑，及时积累个案，归纳资料，让</tspan><tspan x="2265" dy="15.25">自己的教学留有痕迹，写出一些高质量的教学</tspan><tspan x="2265" dy="15.25">心得与经验，教学感受，教学小结，自己在平</tspan><tspan x="2265" dy="15.25">时所做的工作的想法与实践经验。对初中数学</tspan><tspan x="2265" dy="15.25">教师应具备的学科能力提出具体要求，并充分</tspan><tspan x="2265" dy="15.25">利用校本教研、听课调研、集体备课、网络教</tspan><tspan x="2265" dy="15.25">研、学科教学教研活动等形式进行有针对性地</tspan><tspan x="2265" dy="15.25">培训和指导，不断提高数学教师的学科能力和</tspan><tspan x="2265" dy="15.25">专业素质。</tspan></text>
</g>
<g id="b4-s4-t2">
<rect class="bx" x="2260" y="2881.5" width="249" height="72" rx="5"/>
<text class="t"><tspan x="2265" y="2899.2">希望两年以后，能达到规划目标，对数学教学</tspan><tspan x="2265" dy="15.25">有更深的理解和更大的把握，有足够的魅力吸</tspan><tspan x="2265" dy="15.25">引着我的学生学习数学的兴趣，真正地为素质</tspan><tspan x="2265" dy="15.25">教育贴砖加瓦，全面提高数学成绩。</tspan></text>
</g>
<g id="watermarks">
<text class="wm" x="651" y="554" transform="rotate(-32 651 514)">树图 shutu.cn</text>
<text class="wm" x="648" y="1550" transform="rotate(-32 648 1510)">树图 shutu.cn</text>
<text class="wm" x="648" y="2546" transform="rotate(-32 648 2506)">树图 shutu.cn</text>
<text class="wm" x="1926" y="554" transform="rotate(-32 1926 514)">树图 shutu.cn</text>
<text class="wm" x="1926" y="1550" transform="rotate(-32 1926 1510)">树图 shutu.cn</text>
<text class="wm" x="1926" y="2546" transform="rotate(-32 1926 2506)">树图 shutu.cn</text>
</g>
</svg>
